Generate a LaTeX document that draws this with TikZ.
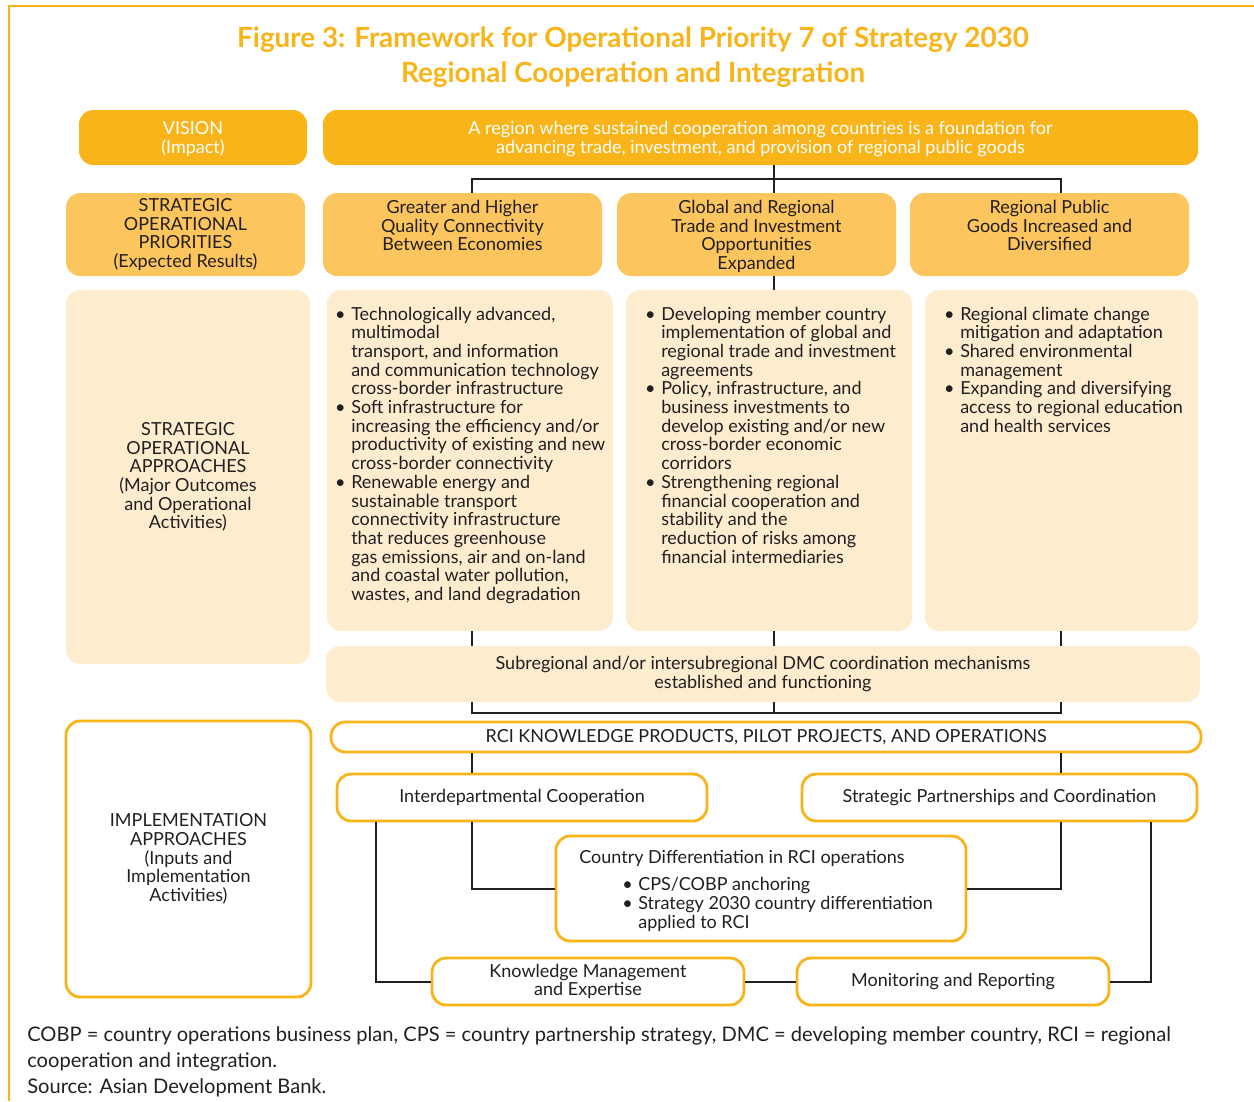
\documentclass[tikz,border=0pt]{standalone}
\usepackage{fontspec}
\setmainfont{Lato}
\usetikzlibrary{fit,positioning}
\definecolor{adbgold}{RGB}{249,180,26}
\definecolor{adbmid}{RGB}{252,197,93}
\definecolor{adbcream}{RGB}{253,236,206}
\definecolor{adbink}{RGB}{35,31,32}
\newcommand{\bul}{\llap{\textbullet\hspace{4pt}}}
\begin{document}
\begin{tikzpicture}[x=0.025cm,y=-0.025cm,
	every node/.style={font=\fontsize{12.8}{13.3}\selectfont, text=adbink},
	box/.style={rounded corners=10pt, inner sep=0pt},
	vbox/.style={box, fill=adbgold},
	pbox/.style={box, fill=adbmid},
	abox/.style={box, fill=adbcream},
	obox/.style={box, draw=adbgold, line width=2pt, fill=white},
	lbl/.style={inner sep=0pt, align=center},
	wlbl/.style={lbl, text=white},
	txt/.style={inner sep=0pt, align=left},
	conn/.style={draw=adbink, line width=1.4pt}]
	\useasboundingbox (0,0) rectangle (1254,1101);
	\draw[adbgold, line width=1.6pt] (9,1101) -- (9,6) -- (1254,6);
	\node[font=\bfseries\fontsize{19.8}{25}\selectfont, text=adbgold, align=center] (title) at (633,57) {Figure 3: Framework for Operational Priority 7 of Strategy 2030\\Regional Cooperation and Integration};

	\node[vbox, fit={(79,110) (307,165)}] (vis) {};
	\node[wlbl, yshift=-1.2pt] (vist) at (vis.center) {VISION\\(Impact)};
	\node[vbox, fit={(323,110) (1198,165)}] (vtx) {};
	\node[wlbl, yshift=-1.2pt] (vtxt) at (vtx.center) {A region where sustained cooperation among countries is a foundation for\\advancing trade, investment, and provision of regional public goods};

	\node[pbox, fit={(66,193) (305,276)}] (sop) {};
	\node[lbl] (sopt) at (sop.center) {STRATEGIC\\OPERATIONAL\\PRIORITIES\\(Expected Results)};
	\node[pbox, fit={(323,193) (602,276)}] (p1) {};
	\node[pbox, fit={(617,193) (896,276)}] (p2) {};
	\node[pbox, fit={(910,193) (1189,276)}] (p3) {};
	\node[lbl, below=5pt] (p1t) at (p1.north) {Greater and Higher\\Quality Connectivity\\Between Economies};
	\node[lbl, below=5pt] (p2t) at (p2.north) {Global and Regional\\Trade and Investment\\Opportunities\\Expanded};
	\node[lbl, below=5pt] (p3t) at (p3.north) {Regional Public\\Goods Increased and\\Diversified};

	\node[abox, fit={(66,290) (310,664)}] (soa) {};
	\node[lbl] (soat) at (soa.center) {STRATEGIC\\OPERATIONAL\\APPROACHES\\(Major Outcomes\\and Operational\\Activities)};
	\node[abox, fit={(327,290) (613,631)}] (a1) {};
	\node[abox, fit={(626,290) (912,631)}] (a2) {};
	\node[abox, fit={(925,290) (1198,631)}] (a3) {};
	\node[txt, anchor=north west] (a1t) at (351,306.5) {\bul Technologically advanced,\\multimodal\\transport, and information\\and communication technology\\cross-border infrastructure\\\bul Soft infrastructure for\\increasing the efficiency and/or\\productivity of existing and new\\cross-border connectivity\\\bul Renewable energy and\\sustainable transport\\connectivity infrastructure\\that reduces greenhouse\\gas emissions, air and on-land\\and coastal water pollution,\\wastes, and land degradation};
	\node[txt, anchor=north west] (a2t) at (661,306.5) {\bul Developing member country\\implementation of global and\\regional trade and investment\\agreements\\\bul Policy, infrastructure, and\\business investments to\\develop existing and/or new\\cross-border economic\\corridors\\\bul Strengthening regional\\financial cooperation and\\stability and the\\reduction of risks among\\financial intermediaries};
	\node[txt, anchor=north west] (a3t) at (960,306.5) {\bul Regional climate change\\mitigation and adaptation\\\bul Shared environmental\\management\\\bul Expanding and diversifying\\access to regional education\\and health services};
	\node[abox, fit={(326,646) (1200,702)}] (sub) {};
	\node[lbl] (subt) at (sub.center) {Subregional and/or intersubregional DMC coordination mechanisms\\established and functioning};

	\node[obox, fit={(66,721) (311,997)}] (imp) {};
	\node[lbl] (impt) at (imp.center) {IMPLEMENTATION\\APPROACHES\\(Inputs and\\Implementation\\Activities)};
	\node[obox, fit={(331,722) (1201,752)}] (rci) {};
	\node[lbl] (rcit) at (rci.center) {RCI KNOWLEDGE PRODUCTS, PILOT PROJECTS, AND OPERATIONS};
	\node[obox, fit={(337,774) (707,821)}] (idc) {};
	\node[lbl] (idct) at (idc.center) {Interdepartmental Cooperation};
	\node[obox, fit={(802,774) (1197,821)}] (spc) {};
	\node[lbl] (spct) at (spc.center) {Strategic Partnerships and Coordination};
	\node[obox, fit={(556,836) (966,941)}] (cdf) {};
	\node[txt, anchor=north west] (cdft) at (579,850) {Country Differentiation in RCI operations\\[6pt]\hspace*{42pt}\bul CPS/COBP anchoring\\\hspace*{42pt}\bul Strategy 2030 country differentiation\\\hspace*{42pt}applied to RCI};
	\node[obox, fit={(432,958) (744,1005)}] (kme) {};
	\node[lbl] (kmet) at (kme.center) {Knowledge Management\\and Expertise};
	\node[obox, fit={(797,958) (1109,1005)}] (mrp) {};
	\node[lbl] (mrpt) at (mrp.center) {Monitoring and Reporting};

	\coordinate (topbar) at (0,179);
	\coordinate (lowbar) at (0,713);
	\coordinate (lx) at (376,0);
	\coordinate (ax) at (472,0);
	\coordinate (mx) at (774,0);
	\coordinate (bx) at (1061,0);
	\coordinate (rx) at (1151,0);
	\draw[conn] (p1.north -| ax) |- (topbar -| bx) -- (p3.north -| bx);
	\draw[conn] (vtx.south -| mx) -- (p2.north -| mx);
	\draw[conn] (p2.south -| mx) -- (a2.north -| mx);
	\draw[conn] (a1.south -| ax) -- (sub.north -| ax);
	\draw[conn] (a2.south -| mx) -- (sub.north -| mx);
	\draw[conn] (a3.south -| bx) -- (sub.north -| bx);
	\draw[conn] (sub.south -| ax) |- (lowbar -| bx) -- (sub.south -| bx);
	\draw[conn] (sub.south -| mx) -- (lowbar -| mx);
	\draw[conn] (rci.south -| ax) -- (idc.north -| ax);
	\draw[conn] (rci.south -| bx) -- (spc.north -| bx);
	\draw[conn] (idc.south -| ax) |- (cdf.west);
	\draw[conn] (spc.south -| bx) |- (cdf.east);
	\draw[conn] (idc.south -| lx) |- (kme.west);
	\draw[conn] (spc.south -| rx) |- (mrp.east);
	\draw[conn] (kme.east) -- (mrp.west);

	\node[txt, anchor=north west, font=\fontsize{14.3}{18.5}\selectfont] (note) at (27,1026) {COBP = country operations business plan, CPS = country partnership strategy, DMC = developing member country, RCI = regional\\cooperation and integration.\\Source: Asian Development Bank.};
\end{tikzpicture}
\end{document}
